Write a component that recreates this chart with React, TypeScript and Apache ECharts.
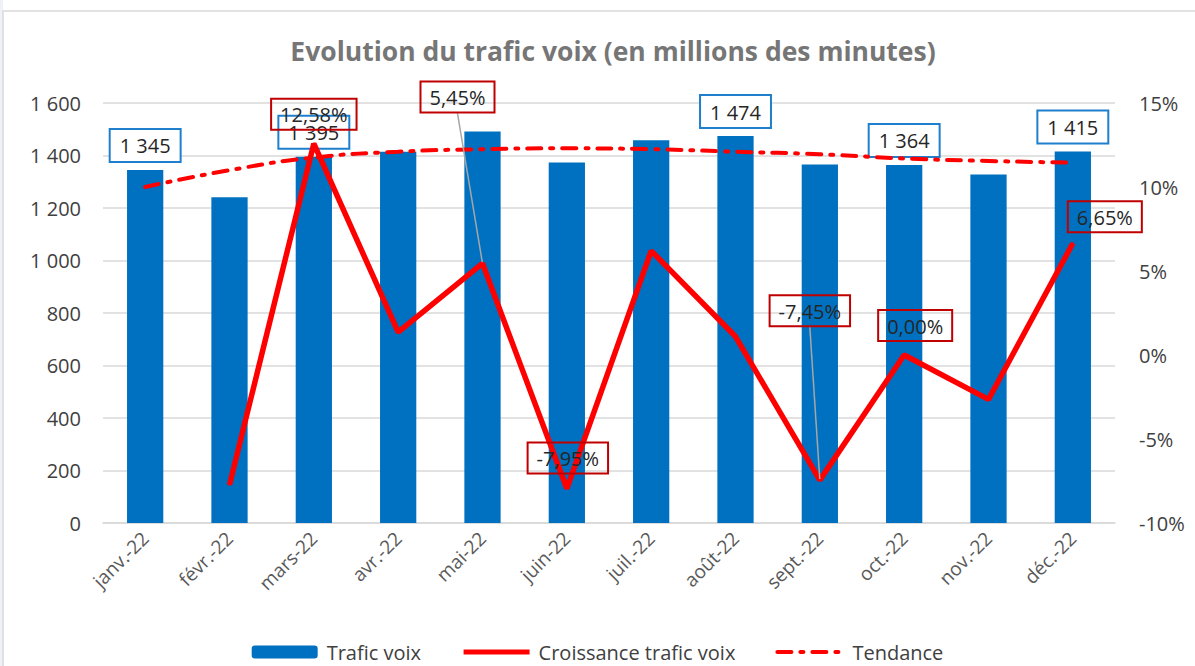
import React, { useEffect, useRef } from "react";
import * as echarts from "echarts";

const categories = ["janv.-22", "févr.-22", "mars-22", "avr.-22", "mai-22", "juin-22", "juil.-22", "août-22", "sept.-22", "oct.-22", "nov.-22", "déc.-22"];
const traficVoix = [1345, 1241, 1395, 1414, 1491, 1373, 1458, 1474, 1366, 1364, 1328, 1415];
const croissance: (number | null)[] = [null, -7.73, 12.58, 1.36, 5.45, -7.95, 6.2, 1.1, -7.45, 0.0, -2.64, 6.65];
const tendance = [10.0, 11.0, 11.75, 12.1, 12.25, 12.3, 12.25, 12.1, 11.95, 11.7, 11.55, 11.45];
const leftTicks = { min: 0, max: 1600, interval: 200 };
const rightTicks = { min: -10, max: 15, interval: 5 };
const barLabelIdx = [0, 2, 7, 9, 11];
const growthLabelIdx = [2, 4, 5, 8, 9, 11];
const leaderIdx = [4, 8];

// label displacement (pixels) for growth labels
const growthShift: Record<number, [number, number]> = {
  2: [0, -8],
  4: [-25, -145],
  5: [1, -9],
  8: [-10, -148],
  9: [11, -8],
  11: [32, -5],
};

const FONT = "'Open Sans', 'Noto Sans', sans-serif";

const fmtNum = (v: number) => String(Math.round(v)).replace(/\B(?=(\d{3})+(?!\d))/g, " ");
const fmtPct = (v: number) => v.toFixed(2).replace(".", ",") + "%";

export default function App() {
  const ref = useRef<HTMLDivElement>(null);
  useEffect(() => {
    if (!ref.current) return;
    const chart = echarts.init(ref.current, null, { renderer: "svg" });
    chart.setOption({
      animation: false,
      backgroundColor: "#ffffff",
      title: {
        text: "Evolution du trafic voix (en millions des minutes)",
        left: 608,
        top: 32,
        textAlign: "center",
        textStyle: { fontFamily: FONT, fontWeight: "bold", fontSize: 26.5, color: "#767676" },
      },
      graphic: [
        {
          type: "rect",
          shape: { x: 0, y: 0, width: 3, height: 666 },
          style: { fill: "#eef2f7" },
          silent: true,
        },
        {
          type: "rect",
          shape: { x: 3, y: 11, width: 1220, height: 700 },
          style: { fill: "none", stroke: "#d9d9d9", lineWidth: 1.5 },
          silent: true,
        },
      ],
      legend: {
        top: 637,
        left: "center",
        itemWidth: 66,
        itemHeight: 13,
        itemGap: 40,
        textStyle: { fontFamily: FONT, fontSize: 20, color: "#404040", padding: [0, 0, 0, 4] },
        data: [
          { name: "Trafic voix" },
          { name: "Croissance trafic voix", itemStyle: { opacity: 0 }, lineStyle: { width: 5 } },
          { name: "Tendance", itemStyle: { opacity: 0 }, lineStyle: { width: 4 } },
        ],
      },
      grid: { left: 103, right: 80, top: 103, bottom: 143 },
      xAxis: {
        type: "category",
        data: categories,
        axisTick: { show: false },
        axisLine: { lineStyle: { color: "#d9d9d9", width: 1.5 } },
        axisLabel: { rotate: 45, fontFamily: FONT, fontSize: 19, color: "#595959", margin: 12, interval: 0 },
      },
      yAxis: [
        {
          type: "value",
          ...leftTicks,
          axisLabel: { fontFamily: FONT, fontSize: 20, color: "#404040", margin: 22, formatter: (v: number) => fmtNum(v) },
          splitLine: { lineStyle: { color: "#d9d9d9", width: 1.5 } },
          axisLine: { show: false },
          axisTick: { show: false },
        },
        {
          type: "value",
          ...rightTicks,
          axisLabel: { fontFamily: FONT, fontSize: 20, color: "#404040", margin: 24, formatter: (v: number) => `${v}%` },
          splitLine: { show: false },
          axisLine: { show: false },
          axisTick: { show: false },
        },
      ],
      series: [
        {
          name: "Trafic voix",
          type: "bar",
          barWidth: "43%",
          itemStyle: { color: "#0070c0" },
          data: traficVoix.map((v, i) => ({
            value: v,
            label: { show: barLabelIdx.includes(i) },
          })),
          label: {
            position: "top",
            distance: 9,
            formatter: (p: any) => fmtNum(p.value),
            fontFamily: FONT,
            fontSize: 20,
            color: "#262626",
            backgroundColor: "#ffffff",
            borderColor: "#1f7fcc",
            borderWidth: 2,
            padding: [6, 9, 5, 9],
          },
          z: 2,
        },
        {
          name: "Tendance",
          type: "line",
          yAxisIndex: 1,
          data: tendance,
          symbol: "none",
          smooth: true,
          lineStyle: { color: "#ff0000", width: 4, type: [14, 9, 3, 9], cap: "round" },
          itemStyle: { color: "#ff0000" },
          z: 3,
        },
        {
          name: "Croissance trafic voix",
          type: "line",
          yAxisIndex: 1,
          symbol: "circle",
          symbolSize: 2,
          showSymbol: true,
          lineStyle: { color: "#ff0000", width: 5.5 },
          itemStyle: { color: "#ff0000" },
          data: croissance.map((v, i) => ({
            value: v,
            label: { show: growthLabelIdx.includes(i) },
            labelLine: { show: leaderIdx.includes(i) },
          })),
          label: {
            position: "top",
            distance: 5,
            formatter: (p: any) => fmtPct(p.value),
            fontFamily: FONT,
            fontSize: 20,
            color: "#262626",
            borderColor: "#c00000",
            borderWidth: 2,
            padding: [6, 9, 5, 9],
          },
          labelLine: { show: false, lineStyle: { color: "#a6a6a6", width: 1.5 } },
          labelLayout: (p: any) => {
            const s = growthShift[p.dataIndex];
            return s ? { dx: s[0], dy: s[1] } : {};
          },
          z: 4,
        },
      ],
    });
    return () => chart.dispose();
  }, []);
  return (
    <div
      ref={ref}
      style={{ position: "absolute", left: 0, top: 0, width: 1195, height: 666 }}
    />
  );
}
